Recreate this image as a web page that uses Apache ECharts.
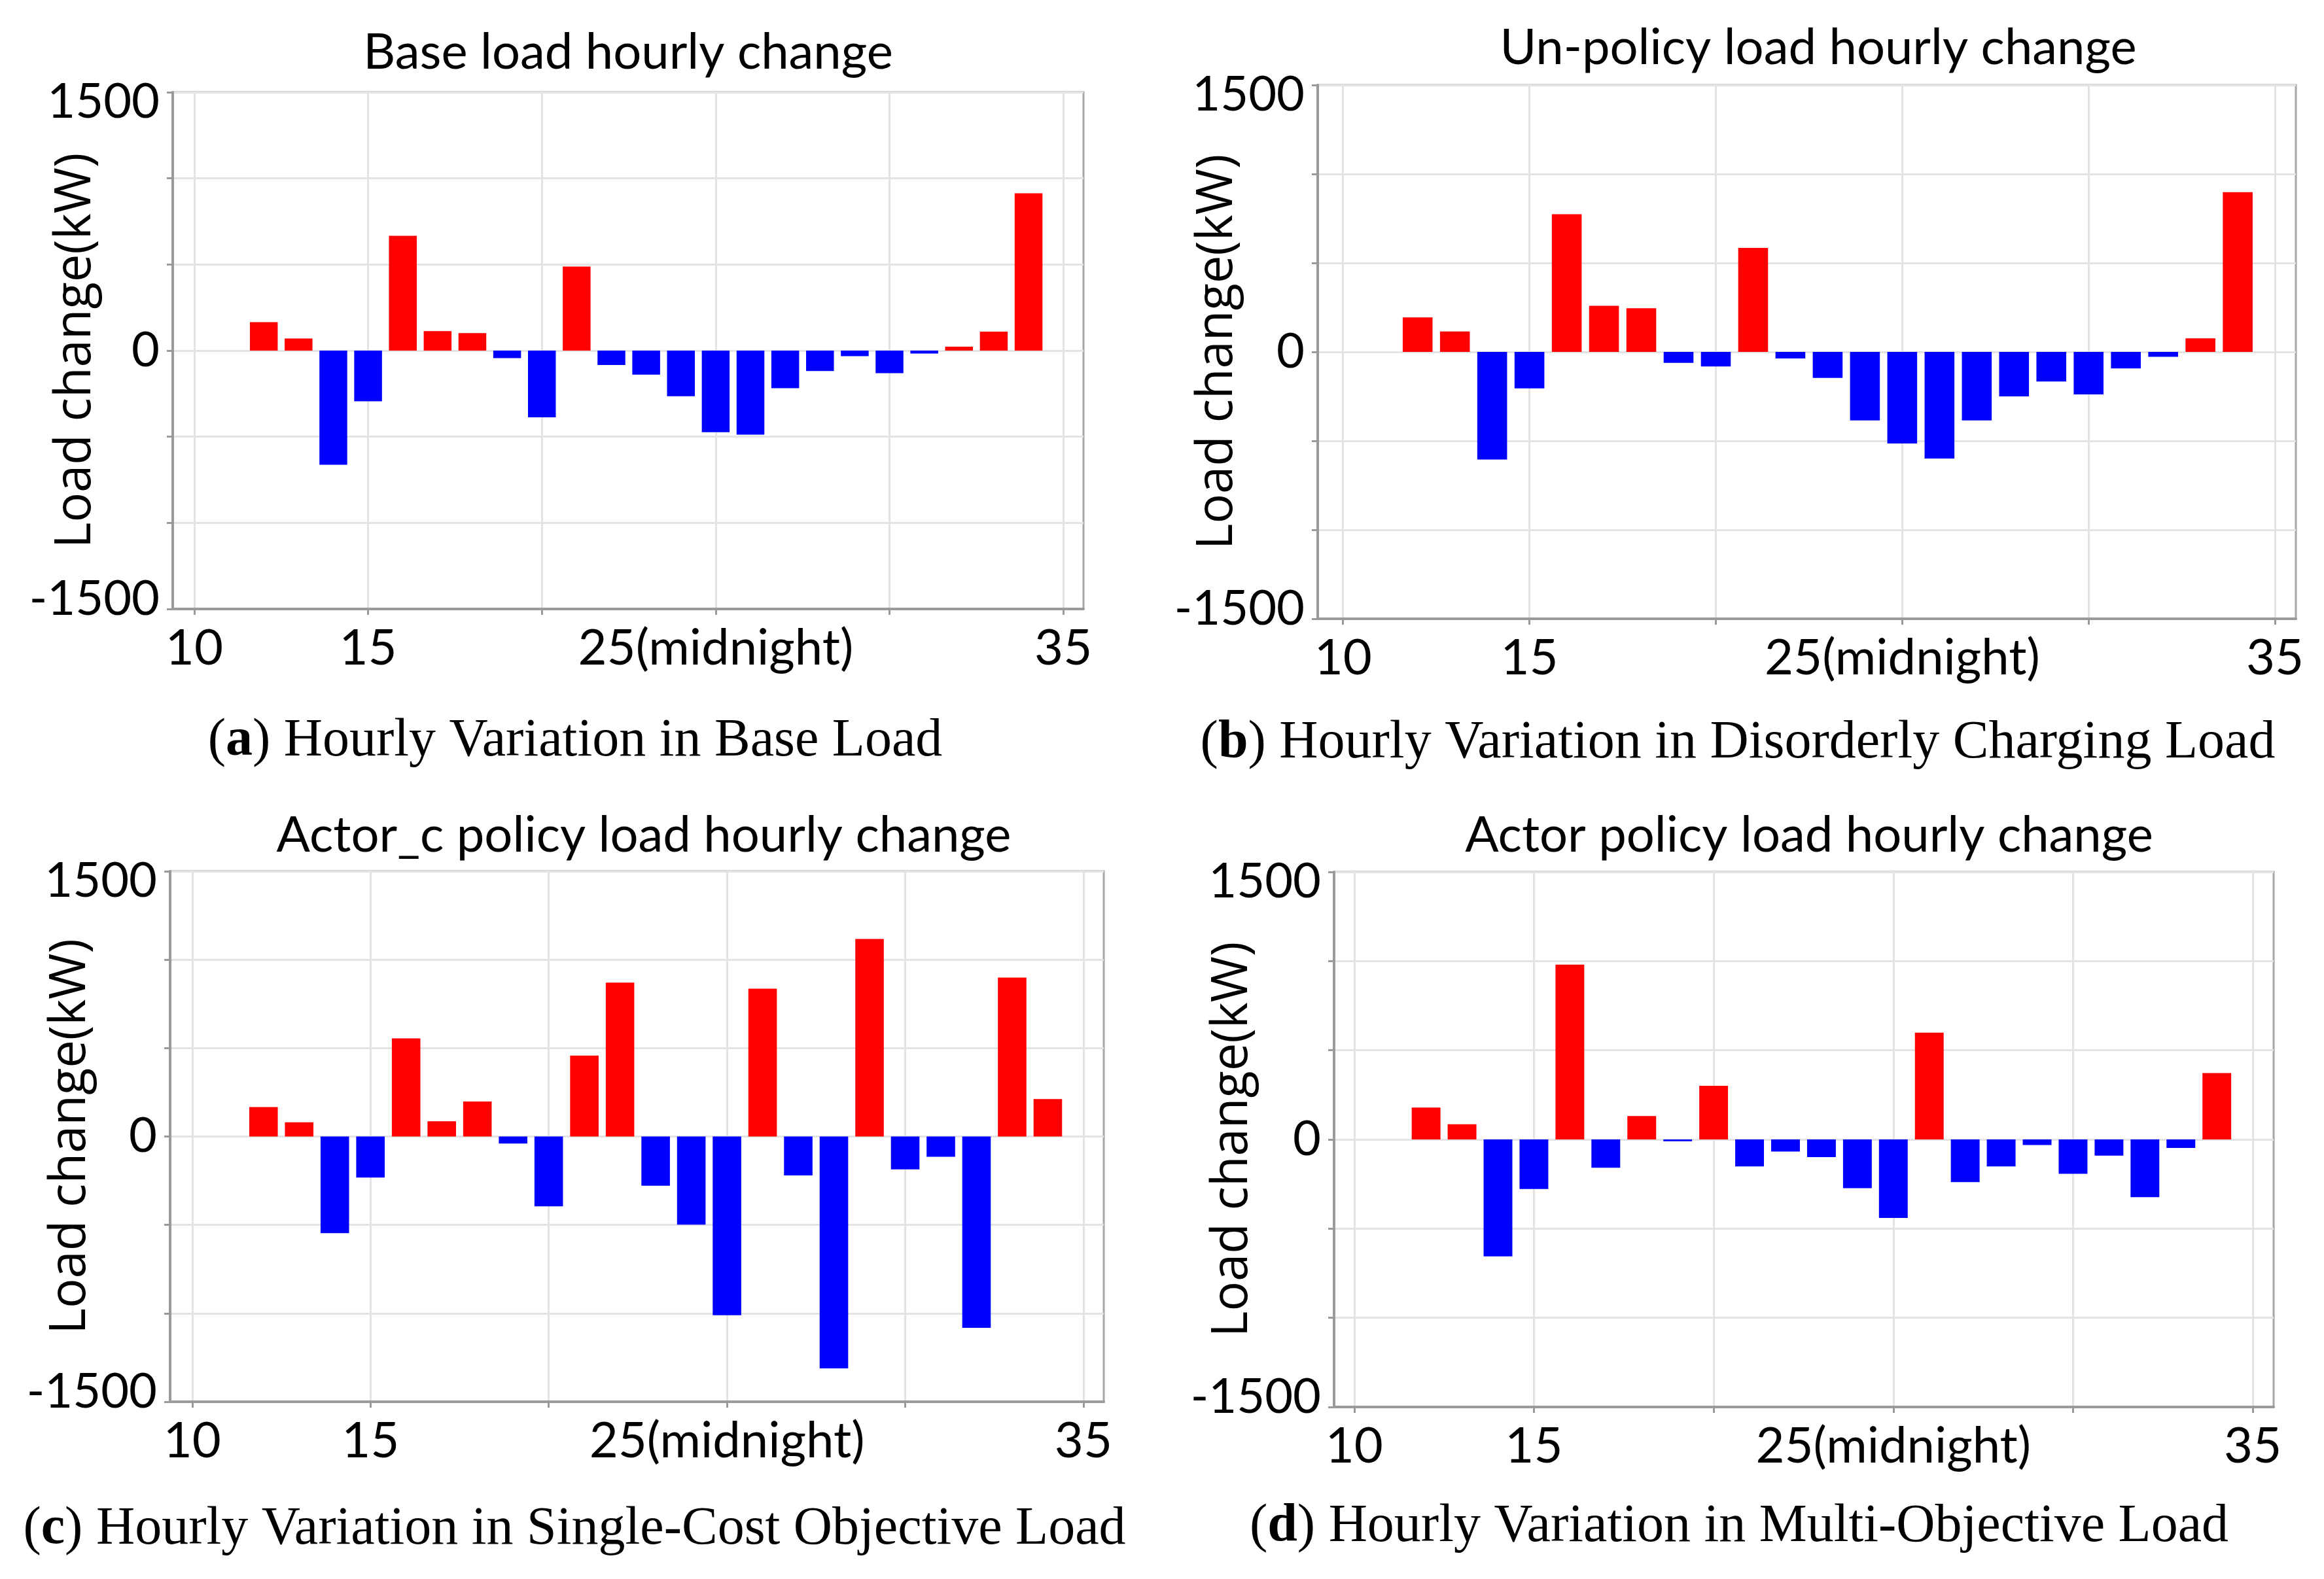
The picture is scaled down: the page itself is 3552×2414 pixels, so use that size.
<!DOCTYPE html>
<html>
<head>
<meta charset="utf-8">
<script src="https://cdn.jsdelivr.net/npm/echarts@6/dist/echarts.min.js"></script>
<style>
html,body{margin:0;padding:0;background:#fff;}
#chart{width:3552px;height:2414px;}
</style>
</head>
<body>
<div id="chart"></div>
<script>
// ---- data ----
const hours = [12,13,14,15,16,17,18,19,20,21,22,23,24,25,26,27,28,29,30,31,32,33,34];
const baseLoad   = [165,70,-663,-294,666,113,102,-44,-387,488,-84,-140,-265,-474,-488,-218,-119,-32,-131,-17,23,110,913];
const unPolicy   = [194,115,-605,-205,774,259,245,-62,-82,585,-37,-146,-385,-515,-599,-385,-250,-166,-239,-93,-28,76,898];
const actorC     = [166,80,-547,-232,555,86,198,-40,-395,458,870,-278,-498,-1011,836,-220,-1311,1117,-186,-115,-1082,899,212];
const actorMulti = [179,85,-656,-278,980,-159,131,-10,301,-151,-68,-99,-273,-440,599,-239,-151,-31,-193,-91,-324,-48,372];

const chartTitles = ['Base load hourly change','Un-policy load hourly change','Actor_c policy load hourly change','Actor policy load hourly change'];
const captionLetters = ['a','b','c','d'];
const captionTexts = [' Hourly Variation in Base Load',' Hourly Variation in Disorderly Charging Load',' Hourly Variation in Single-Cost Objective Load',' Hourly Variation in Multi-Objective Load'];
const xTickValues = [10,15,20,25,30,35];
const xLabelValues = [10,15,25,35];
const yLabelValues = [-1500,0,1500];
const yAxisName = 'Load change(kW)';

const seriesValues = [baseLoad, unPolicy, actorC, actorMulti];

// ---- layout (pixels) ----
const layouts = [
  {left:264, top:141, width:1392, height:790, xmin:9.38, xmax:35.58, tx:960,  ty:80,   cx:879,  cy:1133, nameGap:110},
  {left:2014,top:130, width:1495, height:816, xmin:9.32, xmax:35.56, tx:2779, ty:73,   cx:2656, cy:1136, nameGap:115},
  {left:260, top:1332,width:1427, height:811, xmin:9.38, xmax:35.57, tx:984,  ty:1277, cx:878,  cy:2338, nameGap:114},
  {left:2039,top:1333,width:1436, height:818, xmin:9.44, xmax:35.58, tx:2765, ty:1277, cx:2658, cy:2334, nameGap:117}
];

const sansTick = 'Lato, "Noto Sans", sans-serif';
const grids = [], xAxes = [], yAxes = [], series = [], graphics = [];

layouts.forEach((L, i) => {
  grids.push({left:L.left, top:L.top, width:L.width, height:L.height, show:true,
    outerBoundsMode:'none', containLabel:false,
    borderColor:'#a6a6a6', borderWidth:3, backgroundColor:'#fff'});
  xAxes.push({
    type:'value', gridIndex:i, min:L.xmin, max:L.xmax,
    axisLine:{show:true, onZero:false, lineStyle:{color:'#9a9a9a', width:4}},
    axisTick:{show:true, customValues:xTickValues, length:9, lineStyle:{color:'#9a9a9a', width:3}},
    axisLabel:{show:true, customValues:xLabelValues, margin:22, color:'#000', fontSize:76, fontFamily:sansTick,
      formatter: v => v === 25 ? '25(midnight)' : String(v)},
    splitLine:{show:true, lineStyle:{color:'#e3e3e3', width:3}}
  });
  yAxes.push({
    type:'value', gridIndex:i, min:-1500, max:1500, interval:500,
    name:yAxisName, nameLocation:'middle', nameGap:L.nameGap, nameMoveOverlap:false,
    nameTextStyle:{fontSize:76, fontFamily:'"Open Sans", sans-serif', color:'#000'},
    axisLine:{show:true, lineStyle:{color:'#9a9a9a', width:4}},
    axisTick:{show:true, length:9, lineStyle:{color:'#9a9a9a', width:3}},
    axisLabel:{show:true, margin:20, color:'#000', fontSize:74, fontFamily:sansTick,
      formatter: v => {
        if (v === yLabelValues[2]) return '{t|' + v + '}';
        if (v === yLabelValues[0]) return '{b|' + v + '}';
        if (v === yLabelValues[1]) return String(v);
        return '';
      },
      rich:{
        t:{fontSize:74, fontFamily:sansTick, color:'#000', padding:[30,0,0,0]},
        b:{fontSize:74, fontFamily:sansTick, color:'#000', padding:[0,0,30,0]}
      }
    },
    splitLine:{show:true, lineStyle:{color:'#e3e3e3', width:3}}
  });
  const vals = seriesValues[i];
  series.push({
    type:'bar', xAxisIndex:i, yAxisIndex:i, barWidth:'80%',
    data: hours.map((h, k) => [h, vals[k]]),
    itemStyle:{color: p => p.value[1] >= 0 ? '#ff0000' : '#0000ff'}
  });
  graphics.push({
    type:'text', x:L.tx, y:L.ty,
    style:{text:chartTitles[i], fontSize:76, fontFamily:'Lato, sans-serif', fill:'#000',
      textAlign:'center', textVerticalAlign:'middle'}
  });
  graphics.push({
    type:'text', x:L.cx, y:L.cy,
    style:{text:'({b|' + captionLetters[i] + '})' + captionTexts[i], fontSize:82,
      fontFamily:'"Liberation Serif", serif', fill:'#000', textAlign:'center', textVerticalAlign:'middle',
      rich:{b:{fontSize:82, fontFamily:'"Liberation Serif", serif', fontWeight:'bold', fill:'#000'}}}
  });
});

const chart = echarts.init(document.getElementById('chart'));
chart.setOption({
  backgroundColor:'#fff',
  animation:false,
  grid:grids, xAxis:xAxes, yAxis:yAxes, series:series,
  graphic:graphics
});
</script>
</body>
</html>
